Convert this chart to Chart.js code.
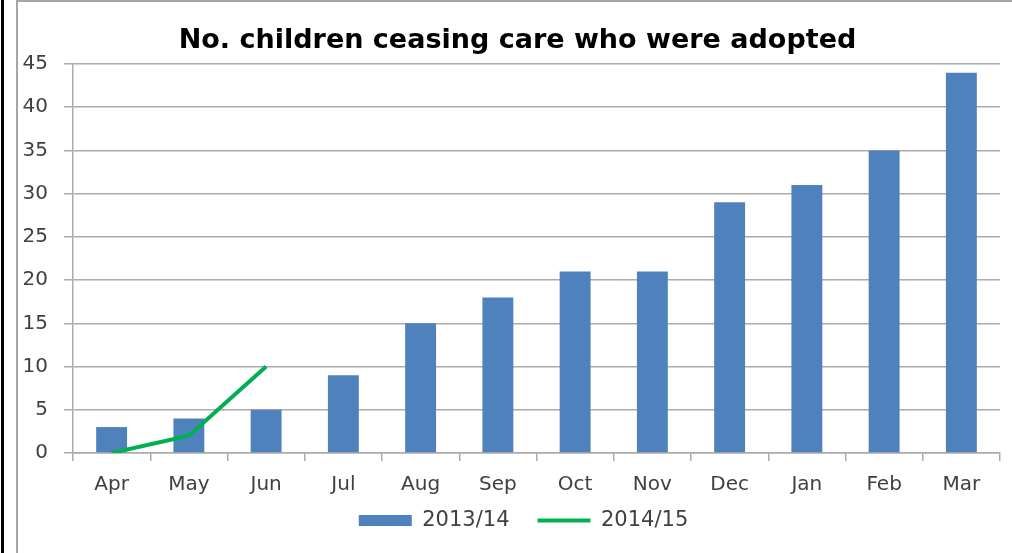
<!DOCTYPE html>
<html>
<head>
<meta charset="utf-8">
<title>No. children ceasing care who were adopted</title>
<script src="https://cdn.jsdelivr.net/npm/chart.js@4"></script>
<style>
  html, body { margin: 0; padding: 0; background: #fff; overflow: hidden; width: 1012px; height: 553px; }
  #edge { position: absolute; left: 1px; top: 0; width: 3px; height: 553px; background: #000; }
  #frame { position: absolute; left: 16px; top: 0; width: 996px; height: 553px;
           border-left: 2px solid #a6a6a6; border-top: 2px solid #a6a6a6; box-sizing: border-box; }
  #wrap { position: absolute; left: 19px; top: 3px; width: 993px; height: 550px; }
</style>
</head>
<body>
<div id="edge"></div>
<div id="frame"></div>
<div id="wrap"><canvas id="adoptions" width="993" height="550"></canvas></div>
<script>
const months = ['Apr', 'May', 'Jun', 'Jul', 'Aug', 'Sep', 'Oct', 'Nov', 'Dec', 'Jan', 'Feb', 'Mar'];
const adopted1314 = [3, 4, 5, 9, 15, 18, 21, 21, 29, 31, 35, 44];
const adopted1415 = [0, 2, 10, null, null, null, null, null, null, null, null, null];

const textFont = '"DejaVu Sans", "Open Sans", sans-serif';
const gridGrey = '#ababab';

// after layout: grow the legend box upwards so the wide-spaced row sits
// just under the month labels, and ease title + legend a little right
const boxNudge = {
    id: 'boxNudge',
    afterLayout(chart) {
        const lg = chart.legend;
        const lift = lg.options.labels.padding - 11;
        lg.top -= lift;
        lg.height += lift;
        lg.left += 13;
        lg.right += 13;
        chart.titleBlock.left += 7;
        chart.titleBlock.right += 7;
    }
};

new Chart(document.getElementById('adoptions'), {
    data: {
        labels: months,
        datasets: [{
            type: 'bar',
            label: '2013/14',
            data: adopted1314,
            backgroundColor: '#4f81bd',
            borderWidth: 0,
            barPercentage: 0.4,
            categoryPercentage: 1,
            pointStyle: 'rect',
            order: 2
        }, {
            type: 'line',
            label: '2014/15',
            data: adopted1415,
            borderColor: '#00b050',
            backgroundColor: '#00b050',
            borderWidth: 4,
            pointRadius: 0,
            pointStyle: 'line',
            tension: 0,
            order: 1
        }]
    },
    plugins: [boxNudge],
    options: {
        responsive: false,
        animation: false,
        layout: { padding: { left: 2, right: 12, top: 0, bottom: 14 } },
        plugins: {
            title: {
                display: true,
                text: 'No. children ceasing care who were adopted',
                color: '#000',
                font: { family: textFont, size: 27, weight: 'bold' },
                padding: { top: 22, bottom: 6.6 }
            },
            legend: {
                position: 'bottom',
                maxHeight: 40,
                labels: {
                    usePointStyle: true,
                    pointStyleWidth: 53,
                    boxHeight: 11,
                    padding: 28,
                    color: '#404040',
                    font: { family: textFont, size: 21 },
                    sort: (a, b) => a.datasetIndex - b.datasetIndex
                }
            },
            tooltip: { enabled: false }
        },
        scales: {
            x: {
                offset: true,
                grid: {
                    offset: true,
                    drawOnChartArea: false,
                    drawTicks: true,
                    tickLength: 8,
                    color: gridGrey,
                    lineWidth: 1.5
                },
                border: { color: gridGrey, width: 1.5 },
                ticks: {
                    color: '#404040',
                    padding: 12,
                    font: { family: textFont, size: 20 },
                    maxRotation: 0
                },
                afterFit: scale => { scale.height = 46; }
            },
            y: {
                min: 0,
                max: 45,
                grid: {
                    color: gridGrey,
                    lineWidth: 1.5,
                    drawTicks: true,
                    tickLength: 9
                },
                border: { color: gridGrey, width: 1.5 },
                ticks: {
                    stepSize: 5,
                    color: '#404040',
                    padding: 16,
                    font: { family: textFont, size: 20 }
                },
                afterFit: scale => { scale.width = 52; }
            }
        }
    }
});
</script>
</body>
</html>
